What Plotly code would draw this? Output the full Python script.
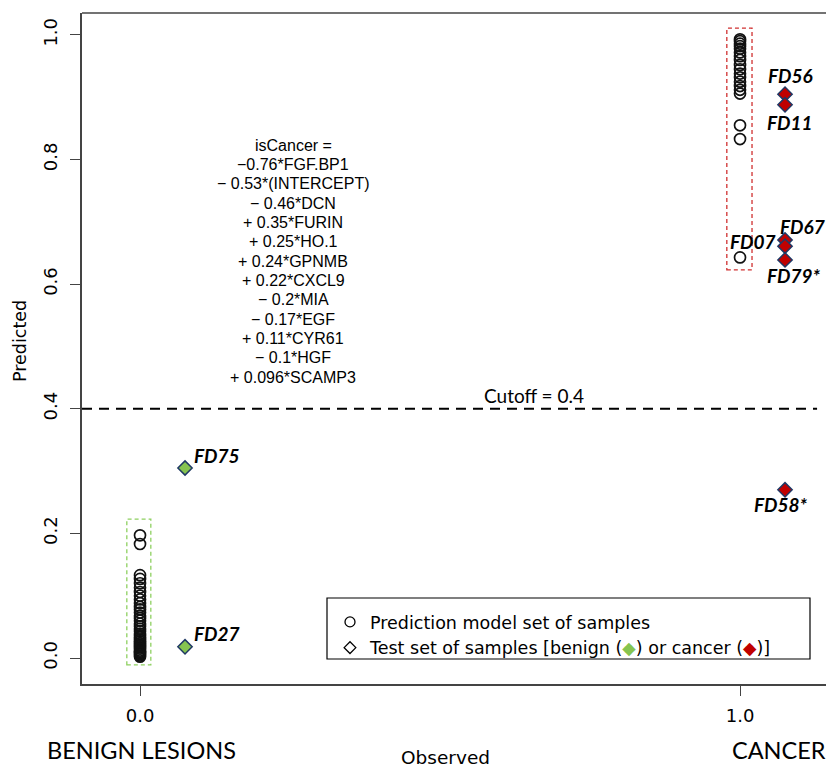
import plotly.graph_objects as go

# ---------------- data ----------------
benign_pred = [0.197, 0.183, 0.133, 0.127, 0.120, 0.113, 0.106, 0.100, 0.094, 0.088,
               0.082, 0.078, 0.073, 0.068, 0.064, 0.060, 0.055, 0.051, 0.047, 0.043,
               0.039, 0.036, 0.033, 0.030, 0.027, 0.024, 0.021, 0.019, 0.017, 0.015,
               0.012, 0.010, 0.008, 0.006, 0.004, 0.002]
cancer_pred = [0.993, 0.990, 0.986, 0.982, 0.978, 0.972, 0.966, 0.960, 0.952, 0.945,
               0.938, 0.932, 0.925, 0.918, 0.912, 0.906, 0.855, 0.833, 0.643]

test_labels = ["FD75", "FD27", "FD56", "FD11", "FD67", "FD07", "FD79*", "FD58*"]
test_x = [0.075, 0.075, 1.075, 1.075, 1.075, 1.075, 1.075, 1.075]
test_y = [0.305, 0.018, 0.905, 0.888, 0.671, 0.661, 0.639, 0.270]
test_class = ["benign", "benign", "cancer", "cancer", "cancer", "cancer", "cancer", "cancer"]
label_dx = [32, 32, 5, 5, 17, -32, 9, -4]
label_dy = [13, 13, 19, -18, 13, 5, -16, -15]

equation = ["isCancer =", "\u22120.76*FGF.BP1", "\u2212 0.53*(INTERCEPT)", "\u2212 0.46*DCN",
            "+ 0.35*FURIN", "+ 0.25*HO.1", "+ 0.24*GPNMB", "+ 0.22*CXCL9",
            "\u2212 0.2*MIA", "\u2212 0.17*EGF", "+ 0.11*CYR61", "\u2212 0.1*HGF",
            "+ 0.096*SCAMP3"]
cutoff = 0.4
y_ticks = [0.0, 0.2, 0.4, 0.6, 0.8, 1.0]
x_ticks = [0, 1]
x_ticktext = ["0.0", "1.0"]

GREEN = "#86C450"
RED = "#C00000"
NAVY = "#1F3864"
fill_map = {"benign": GREEN, "cancer": RED}
SANS = "DejaVu Sans, Liberation Sans, Arial"

fig = go.Figure()

fig.add_trace(go.Scatter(
    x=[0] * len(benign_pred), y=benign_pred, mode="markers",
    marker=dict(symbol="circle-open", size=11, color="#111111", line=dict(width=1.7)),
    showlegend=False, hoverinfo="y"))
fig.add_trace(go.Scatter(
    x=[1] * len(cancer_pred), y=cancer_pred, mode="markers",
    marker=dict(symbol="circle-open", size=11, color="#111111", line=dict(width=1.7)),
    showlegend=False, hoverinfo="y"))
fig.add_trace(go.Scatter(
    x=test_x, y=test_y, mode="markers",
    marker=dict(symbol="diamond", size=11, color=[fill_map[c] for c in test_class],
                line=dict(color=NAVY, width=1.5)),
    text=test_labels, showlegend=False, hoverinfo="text+y"))

# legend-only entries
fig.add_trace(go.Scatter(
    x=[None], y=[None], mode="markers", name="Prediction model set of samples",
    legendgroup="a",
    marker=dict(symbol="circle-open", size=10, color="black", line=dict(width=1.3))))
fig.add_trace(go.Scatter(
    x=[None], y=[None], mode="markers", legendgroup="a",
    name=("Test set of samples [benign (<span style='color:%s'>\u25C6</span>) "
          "or cancer (<span style='color:%s'>\u25C6</span>)]" % (GREEN, RED)),
    marker=dict(symbol="diamond-open", size=9, color="black", line=dict(width=1.3))))

# labels of test samples
for lab, x, y, dx, dy in zip(test_labels, test_x, test_y, label_dx, label_dy):
    fig.add_annotation(x=x, y=y, text="<b><i>%s</i></b>" % lab, showarrow=False,
                       xshift=dx, yshift=dy,
                       font=dict(family="Lato, Liberation Sans", size=19, color="black"))

# cutoff line
fig.add_shape(type="line", xref="paper", yref="y", x0=0, x1=0.988, y0=cutoff, y1=cutoff,
              line=dict(color="black", width=2, dash="10px,7px"))
fig.add_annotation(x=0.657, y=cutoff, xref="x", yref="y", text="Cutoff = %.1f" % cutoff,
                   showarrow=False, yshift=13, xanchor="center",
                   font=dict(family="Lato, Liberation Sans", size=19, color="black"))

# dashed boxes
fig.add_shape(type="rect", x0=-0.022, x1=0.018, y0=min(benign_pred) - 0.013,
              y1=max(benign_pred) + 0.026,
              line=dict(color="#8ED060", width=1.3, dash="4px,3px"))
fig.add_shape(type="rect", x0=0.978, x1=1.02, y0=min(cancer_pred) - 0.02,
              y1=max(cancer_pred) + 0.018,
              line=dict(color="#D03030", width=1.3, dash="4px,3px"))

# top border
fig.add_shape(type="line", xref="paper", yref="paper", x0=0, x1=1, y0=1, y1=1,
              line=dict(color="#444444", width=1.5))

# equation
eq_top = 145
eq_step = 19.35
plot_top, plot_h = 13, 671
for i, line in enumerate(equation):
    ypx = eq_top + i * eq_step
    fig.add_annotation(x=0.255, y=1 - (ypx - plot_top) / plot_h, xref="x", yref="paper",
                       text=line, showarrow=False, xanchor="center", yanchor="middle",
                       font=dict(family="Liberation Sans, Arial", size=16, color="black"))

# legend box
fig.add_shape(type="rect", xref="paper", yref="paper",
              x0=(327 - 82) / 744, x1=(810 - 82) / 744,
              y0=1 - (659 - 13) / 671, y1=1 - (598 - 13) / 671,
              line=dict(color="black", width=1.2), fillcolor="rgba(0,0,0,0)")

# axis titles and class labels
fig.add_annotation(text="Predicted", xref="paper", yref="paper", x=-62 / 744, y=1 - (341 - 13) / 671,
                   textangle=-90, showarrow=False, xanchor="center", yanchor="middle",
                   font=dict(family=SANS, size=17.5, color="black"))
fig.add_annotation(text="Observed", xref="paper", yref="paper", x=(445 - 82) / 744, y=-(757 - 684) / 671,
                   showarrow=False, xanchor="center", yanchor="middle",
                   font=dict(family=SANS, size=18.5, color="black"))
fig.add_annotation(text="BENIGN LESIONS", xref="paper", yref="paper", x=(141 - 82) / 744,
                   y=-(750 - 684) / 671, showarrow=False, xanchor="center", yanchor="middle",
                   font=dict(family="Lato, Liberation Sans", size=23.5, color="black"))
fig.add_annotation(text="CANCER", xref="paper", yref="paper", x=1.003,
                   y=-(750 - 684) / 671, showarrow=False, xanchor="right", yanchor="middle",
                   font=dict(family="Lato, Liberation Sans", size=23.5, color="black"))

fig.update_layout(
    width=826, height=768,
    margin=dict(l=82, r=0, t=13, b=84),
    paper_bgcolor="white", plot_bgcolor="white",
    font=dict(family=SANS, color="black"),
    showlegend=True,
    legend=dict(x=(330 - 82) / 744, y=1 - (604 - 13) / 671, xanchor="left", yanchor="top",
                bgcolor="rgba(0,0,0,0)", borderwidth=0, tracegroupgap=0,
                font=dict(family=SANS, size=17.5, color="black")),
    xaxis=dict(range=[-0.0967, 1.1433], tickvals=x_ticks, ticktext=x_ticktext,
               showgrid=False, zeroline=False, showline=True, linecolor="#444444", linewidth=1.5,
               ticks="outside", ticklen=10, tickwidth=1.3, tickcolor="#444444",
               tickfont=dict(family=SANS, size=18), ticklabelstandoff=5),
    yaxis=dict(range=[-0.0417, 1.0353], tickvals=y_ticks, tickformat=".1f",
               showgrid=False, zeroline=False, showline=True, linecolor="#444444", linewidth=1.5,
               ticks="outside", ticklen=10, tickwidth=1.3, tickcolor="#444444",
               tickangle=-90, tickfont=dict(family=SANS, size=18), ticklabelstandoff=6),
)

fig.write_html("out.html")
